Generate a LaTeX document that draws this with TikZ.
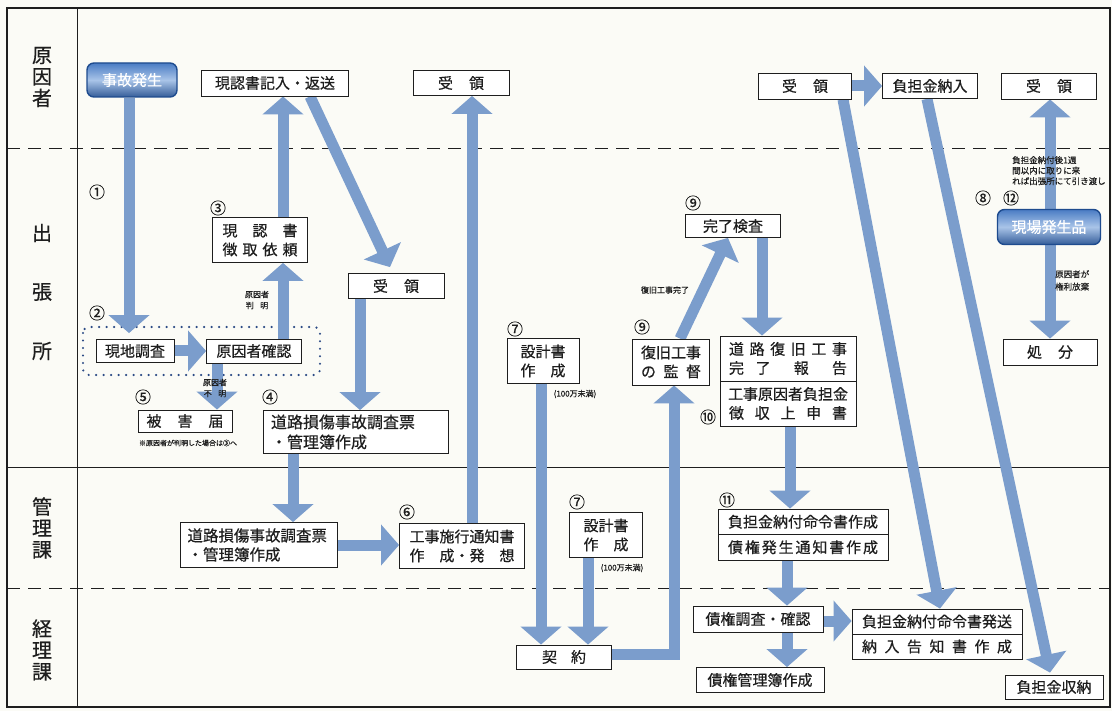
\documentclass[tikz,border=0pt]{standalone}
\usepackage{fontspec}
\setmainfont{Noto Sans CJK JP}[FakeBold=0.5]
\usetikzlibrary{arrows.meta,calc}
\pgfdeclarelayer{back}
\pgfdeclarelayer{arrows}
\pgfsetlayers{back,arrows,main}
\newcommand\myfs[2]{\fontsize{#1}{#2}\selectfont}
\newcommand\jfill[2]{\makebox[#1pt][s]{#2}}
\definecolor{arrowblue}{HTML}{7B9DCC}
\definecolor{bgcol}{HTML}{FBFBF6}
\definecolor{ink}{HTML}{1E1E1E}
\definecolor{gdark}{HTML}{1E4B8E}
\definecolor{gmid}{HTML}{A9C4E8}
\definecolor{gtop}{HTML}{4A7CC4}
\definecolor{dotcol}{HTML}{2B4A85}
\begin{document}
\begin{tikzpicture}[x=1pt,y=-1pt,
  bx/.style 2 args={draw=ink, fill=white, line width=0.8pt, inner sep=0pt, align=center, text=ink, font=\myfs{15}{19}, minimum width=#1pt, minimum height=#2pt},
  gbx/.style 2 args={draw=gdark, line width=1.4pt, rounded corners=7pt, top color=gtop, bottom color=gdark!90, middle color=gmid, text=white, inner sep=0pt, font=\myfs{15}{18}, minimum width=#1pt, minimum height=#2pt},
  num/.style={font=\myfs{16}{16}, text=ink, inner sep=0pt},
  small/.style={font=\myfs{8}{11}, text=ink, inner sep=0pt, align=center},
  lane/.style={font=\myfs{20}{21.5}, text=ink, align=center, inner sep=0pt},
  arr/.style={draw=arrowblue, line width=11pt, line join=miter, -{Triangle[width=40pt,length=18pt]}},
  lanedash/.style={draw=ink, line width=0.9pt, dash pattern=on 13pt off 8pt},
  dotline/.style={draw=dotcol, line width=2.4pt, line cap=round, dash pattern=on 0pt off 7.5pt}
]
\useasboundingbox (0,0) rectangle (1112,711);
\begin{pgfonlayer}{back}
\fill[bgcol] (0,0) rectangle (1112,711);
% frame and lanes
\draw[ink, line width=1.4pt] (7,8) rectangle (1110,707);
\draw[ink, line width=1pt] (77,8) -- (77,707);
\draw[lanedash] (7,148) -- (1110,148);
\draw[ink, line width=1pt] (7,467) -- (1110,467);
\draw[lanedash] (7,588) -- (1110,588);
\draw[dotline, rounded corners=6pt] (83,327) rectangle (320,375);
\end{pgfonlayer}

\node[lane] (lane1) at (42,77) {原\\因\\者};
\node[lane] (lane2a) at (42,233) {出};
\node[lane] (lane2b) at (42,292) {張};
\node[lane] (lane2c) at (42,351) {所};
\node[lane] (lane3) at (42,528) {管\\理\\課};
\node[lane] (lane4) at (42,650) {経\\理\\課};

% 原因者 lane
\node[gbx={90}{34}] (jiko) at (132,80) {事故発生};
\node[bx={147}{26}] (kinyu) at (275,83) {現認書記入・返送};
\node[bx={96}{25}] (jr1) at (461,83) {\jfill{46}{受\hfill 領}};
\node[bx={93}{26}] (jr3) at (805,86) {\jfill{46}{受\hfill 領}};
\node[bx={95}{25}] (futan) at (930,86) {負担金納入};
\node[bx={95}{26}] (jr4) at (1049,86) {\jfill{46}{受\hfill 領}};

% 出張所 lane
\node[bx={95}{45}] (choshu) at (260,240) {\jfill{75}{現\hfill 認\hfill 書}\\\jfill{75}{徴\hfill 取\hfill 依\hfill 頼}};
\node[bx={96}{25}] (jr2) at (396,286) {\jfill{46}{受\hfill 領}};
\node[bx={78}{23}] (genchi) at (135,351) {現地調査};
\node[bx={95}{24}] (genin) at (254,351) {原因者確認};
\node[bx={94}{22}] (higai) at (185,421) {\jfill{77}{被\hfill 害\hfill 届}};
\node[bx={185}{43}, text width=170pt, align=left, font=\myfs{16}{20}] (dr1) at (356,432) {道路損傷事故調査票\\・管理簿作成};
\node[bx={72}{45}] (sekkei1) at (543,361) {設計書\\\jfill{45}{作\hfill 成}};
\node[bx={77}{46}] (kantoku) at (671,362) {復旧工事\\\jfill{60}{の\hfill 監\hfill 督}};
\node[bx={95}{23}] (kanryo) at (733,226) {完了検査};
\node[bx={136}{45}] (hokoku) at (788,358.5) {\jfill{118}{道\hfill 路\hfill 復\hfill 旧\hfill 工\hfill 事}\\\jfill{118}{完\hfill 了\hfill\hfill 報\hfill\hfill 告}};
\node[bx={136}{45}] (joshin) at (788,403.5) {工事原因者負担金\\\jfill{118}{徴\hfill 収\hfill 上\hfill 申\hfill 書}};
\node[gbx={103}{35}] (genba) at (1049,227) {現場発生品};
\node[bx={94}{26}] (shobun) at (1050,352) {\jfill{46}{処\hfill 分}};

% 管理課 lane
\node[bx={157}{45}, text width=143pt, align=left, font=\myfs{15.5}{19}] (dr2) at (259,545) {道路損傷事故調査票\\・管理簿作成};
\node[bx={125}{45}] (tsuchi) at (462,546) {工事施行通知書\\\jfill{105}{作\hfill 成・発\hfill 想}};
\node[bx={73}{45}] (sekkei2) at (606,535) {設計書\\\jfill{45}{作\hfill 成}};
\node[bx={170}{25.5}] (meirei) at (803,521.75) {負担金納付命令書作成};
\node[bx={170}{25.5}] (hassei) at (803,547.25) {\jfill{150}{債\hfill 権\hfill 発\hfill 生\hfill 通\hfill 知\hfill 書\hfill 作\hfill 成}};

% 経理課 lane
\node[bx={95}{24}] (keiyaku) at (564,657) {\jfill{44}{契\hfill 約}};
\node[bx={130}{26}] (chosa) at (758,619) {債権調査・確認};
\node[bx={128}{25}] (kanribo) at (760,680) {債権管理簿作成};
\node[bx={170}{25}] (hasso) at (937,621.5) {負担金納付命令書発送};
\node[bx={170}{25}] (kokuchi) at (937,646.5) {\jfill{150}{納\hfill 入\hfill 告\hfill 知\hfill 書\hfill 作\hfill 成}};
\node[bx={98}{24}] (shuno) at (1054,687) {負担金収納};

% numbers
\node[num] (n1) at (97,192) {①};
\node[num] (n2) at (97,313) {②};
\node[num] (n3) at (218,208) {③};
\node[num] (n4) at (270,397) {④};
\node[num] (n5) at (143,397) {⑤};
\node[num] (n6) at (407,512) {⑥};
\node[num] (n7a) at (515,329) {⑦};
\node[num] (n7b) at (577,502) {⑦};
\node[num] (n8) at (983,198) {⑧};
\node[num] (n9a) at (642,327) {⑨};
\node[num] (n9b) at (693,203) {⑨};
\node[num] (n10) at (708,417) {⑩};
\node[num] (n11) at (727,500) {⑪};
\node[num] (n12) at (1011,198) {⑫};

% small labels
\node[small] (hanmei) at (257,300) {原因者\\判\hspace{0.8em}明};
\node[small] (fumei) at (215,388) {原因者\\不\hspace{0.8em}明};
\node[small, font=\myfs{7}{9}] (note) at (188,443) {※原因者が判明した場合は③へ};
\node[small] (man1) at (575,394) {(100万未満)};
\node[small] (man2) at (622,568) {(100万未満)};
\node[small] (kanryolbl) at (665,290) {復旧工事完了};
\node[small, anchor=north west, align=left, font=\myfs{8.5}{10.5}] (hikiwatashi) at (1012,156) {負担金納付後1週\\間以内に取りに来\\れば出張所にて引き渡し};
\node[small, anchor=north west, align=left, font=\myfs{8.5}{12.5}] (houki) at (1055,270) {原因者が\\権利放棄};

\begin{pgfonlayer}{arrows}
\draw[arr] ([xshift=-3pt]jiko.south) -- ([xshift=-3pt,yshift=6pt]jiko.south |- genchi.north);
\draw[arr] (genchi.east) -- (genin.west);
\draw[arr] ([xshift=29pt]genin.north) -- ([xshift=29pt]genin.north |- choshu.south);
\draw[arr] ([xshift=23pt]choshu.north) -- ([xshift=23pt]choshu.north |- kinyu.south);
\draw[arr] ([xshift=35pt]kinyu.south) -- ([xshift=-6pt,yshift=6pt]jr2.north);
\draw[arr] ([xshift=-36pt]jr2.south) -- ([xshift=-36pt]jr2.south |- dr1.north);
\draw[arr] ([xshift=-37pt]genin.south) -- ([xshift=-37pt]genin.south |- higai.north);
\draw[arr] ([xshift=-63pt]dr1.south) -- ([xshift=-63pt]dr1.south |- dr2.north);
\draw[arr] (dr2.east) -- (dr2.east -| tsuchi.west);
\draw[arr] ([xshift=10pt]tsuchi.north) -- ([xshift=10pt]tsuchi.north |- jr1.south);
\draw[arr] ([xshift=-2pt]sekkei1.south) -- ([xshift=-2pt]sekkei1.south |- keiyaku.north);
\draw[arr] ([xshift=-18pt]sekkei2.south) -- ([xshift=-18pt]sekkei2.south |- keiyaku.north);
\draw[arr] ([yshift=3pt]keiyaku.east) -| ([xshift=3pt]kantoku.south);
\draw[arr] ([xshift=9pt]kantoku.north) -- ([xshift=-5pt]kanryo.south);
\draw[arr] ([xshift=29pt]kanryo.south) -- ([xshift=29pt]kanryo.south |- hokoku.north);
\draw[arr] ([xshift=2pt]joshin.south) -- ([xshift=2pt]joshin.south |- meirei.north);
\draw[arr] ([xshift=-16pt]hassei.south) -- ([xshift=-16pt]hassei.south |- chosa.north);
\draw[arr] ([xshift=29pt]chosa.south) -- ([xshift=29pt]chosa.south |- kanribo.north);
\draw[arr] ([yshift=-2pt]chosa.east) -- ([yshift=-2pt]chosa.east -| hasso.west);
\draw[arr] ([xshift=38pt]jr3.south) -- ([xshift=3pt]hasso.north);
\draw[arr] (jr3.east) -- (futan.west);
\draw[arr] ([xshift=-3pt]futan.south) -- ([xshift=-4pt,yshift=2pt]shuno.north);
\draw[arr] ([xshift=1pt]genba.north) -- ([xshift=1pt]genba.north |- jr4.south);
\draw[arr] ([xshift=1pt]genba.south) -- ([xshift=1pt]genba.south |- shobun.north);
\end{pgfonlayer}
\end{tikzpicture}
\end{document}
